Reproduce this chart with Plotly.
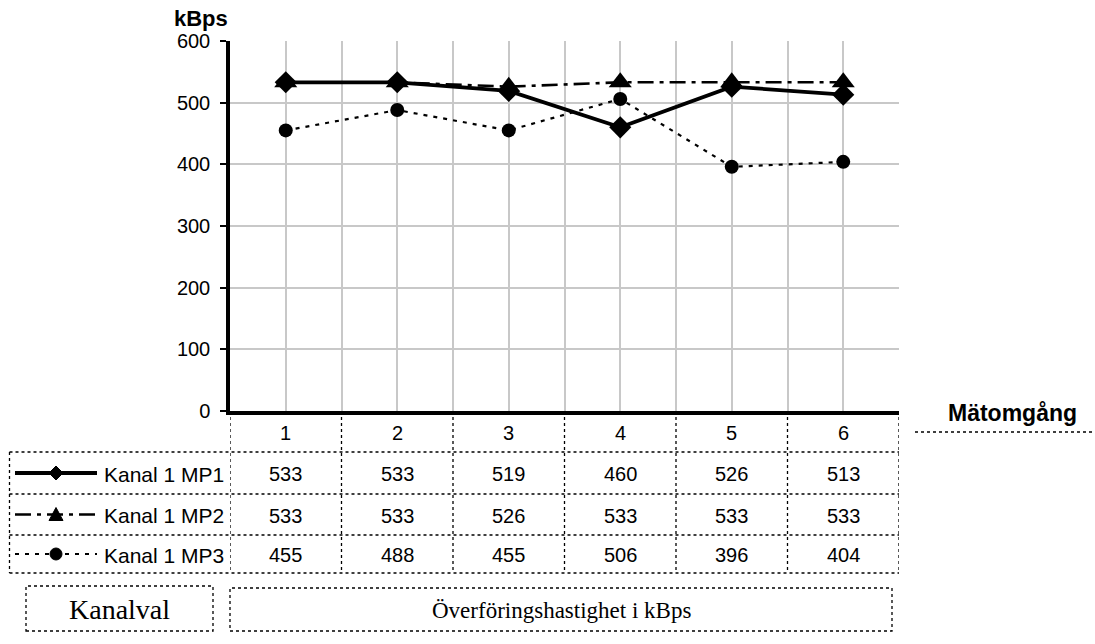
import plotly.graph_objects as go

# ---- data ----
rounds = [1, 2, 3, 4, 5, 6]
series_names = ["Kanal 1 MP1", "Kanal 1 MP2", "Kanal 1 MP3"]
mp1 = [533, 533, 519, 460, 526, 513]
mp2 = [533, 533, 526, 533, 533, 533]
mp3 = [455, 488, 455, 506, 396, 404]
y_ticks = [0, 100, 200, 300, 400, 500, 600]

W, H = 1095, 644
L, R, T, B = 230, 899, 41, 411  # plot area in pixels


def px(X):
    return (X - L) / (R - L)


def py(Y):
    return (B - Y) / (B - T)


ARIAL = "Liberation Sans, Arial, sans-serif"
TIMES = "Liberation Serif, Times New Roman, serif"
FS = 20

fig = go.Figure()

styles = [
    dict(line=dict(color="black", width=3.8, dash="solid"),
         marker=dict(symbol="diamond", size=17, color="black")),
    dict(line=dict(color="black", width=2.6, dash="16px,6px,4px,6px"),
         marker=dict(symbol="triangle-up", size=20, color="black")),
    dict(line=dict(color="black", width=2.2, dash="4px,6px"),
         marker=dict(symbol="circle", size=14, color="black")),
]
for name, vals, st in zip(series_names, [mp1, mp2, mp3], styles):
    fig.add_trace(go.Scatter(x=rounds, y=vals, name=name, mode="lines+markers",
                             line=st["line"], marker=st["marker"],
                             showlegend=False, cliponaxis=False))

shapes = []
annotations = []


def note(x, y, text, xref="paper", size=FS, family=ARIAL, xanchor="center"):
    annotations.append(dict(x=x, y=y, xref=xref, yref="paper", text=text,
                            showarrow=False, xanchor=xanchor, yanchor="middle",
                            font=dict(family=family, size=size, color="black")))


# table row boundaries (pixels)
row_y = [411, 452, 494, 535, 573]
row_centers = [(row_y[i] + row_y[i + 1]) / 2 for i in range(4)]
dot = dict(color="black", width=1.3, dash="dot")

# vertical table lines at category boundaries
for k in range(7):
    xb = rounds[0] - 0.5 + k
    shapes.append(dict(type="line", xref="x", yref="paper", x0=xb, x1=xb,
                       y0=py(row_y[0]), y1=py(row_y[-1]), line=dot))
# horizontal table lines
for yy in row_y[1:]:
    shapes.append(dict(type="line", xref="paper", yref="paper", x0=px(9.5), x1=px(R),
                       y0=py(yy), y1=py(yy), line=dot))
# left border of legend column
shapes.append(dict(type="line", xref="paper", yref="paper", x0=px(9.5), x1=px(9.5),
                   y0=py(row_y[1]), y1=py(row_y[-1]), line=dot))

# category labels in header row
for r in rounds:
    note(r, py(row_centers[0] + 1), str(r), xref="x")
# value cells
for i, vals in enumerate([mp1, mp2, mp3]):
    for r, v in zip(rounds, vals):
        note(r, py(row_centers[i + 1] + 1), str(v), xref="x")

# legend samples in the left column
leg_line = [
    dict(color="black", width=3.8, dash="solid"),
    dict(color="black", width=2.6, dash="16px,6px,4px,6px"),
    dict(color="black", width=2.2, dash="4px,6px"),
]
marker_paths = [
    "M0,7 L7,0 L0,-7 L-7,0 Z",
    "M-7,-6 L7,-6 L0,7 Z",
    None,
]
for i, name in enumerate(series_names):
    yc = py(row_centers[i + 1])
    shapes.append(dict(type="line", xref="paper", yref="paper", x0=px(15), x1=px(97),
                       y0=yc, y1=yc, line=leg_line[i]))
    if marker_paths[i] is not None:
        shapes.append(dict(type="path", xref="paper", yref="paper",
                           xsizemode="pixel", ysizemode="pixel",
                           xanchor=px(56), yanchor=yc, path=marker_paths[i],
                           fillcolor="black", line=dict(color="black", width=1)))
    else:
        shapes.append(dict(type="circle", xref="paper", yref="paper",
                           xsizemode="pixel", ysizemode="pixel",
                           xanchor=px(56), yanchor=yc, x0=-6, x1=6, y0=-6, y1=6,
                           fillcolor="black", line=dict(color="black", width=1)))
    note(px(102), py(row_centers[i + 1] + 1), name, xanchor="left", size=21)

# bottom boxes
boxes = [(26, 586, 213, 631, "Kanalval", 28),
         (230, 588, 892, 631, "Överföringshastighet i kBps", 23)]
for x0, y0, x1, y1, txt, fs in boxes:
    shapes.append(dict(type="rect", xref="paper", yref="paper",
                       x0=px(x0), x1=px(x1), y0=py(y1), y1=py(y0), line=dot))
    note(px((x0 + x1) / 2), py((y0 + y1) / 2 + 1), txt, size=fs, family=TIMES)

# Mätomgång label and underline
note(px(1012), py(413), "<b>Mätomgång</b>", size=23)
shapes.append(dict(type="line", xref="paper", yref="paper", x0=px(915), x1=px(1095),
                   y0=py(432), y1=py(432), line=dot))

# kBps axis title
note(px(201), py(19), "<b>kBps</b>", size=22)

grid_x = [rounds[0] - 0.5 + 0.5 * k for k in range(13)]

fig.update_layout(
    width=W, height=H,
    margin=dict(l=L, r=W - R, t=T, b=H - B, pad=0),
    paper_bgcolor="white", plot_bgcolor="white",
    shapes=shapes, annotations=annotations,
    xaxis=dict(range=[rounds[0] - 0.5, rounds[-1] + 0.5], tickvals=grid_x,
               showticklabels=False, ticks="", showgrid=True, gridcolor="#c8c8c8",
               gridwidth=1.5, zeroline=False, showline=True, linecolor="black",
               linewidth=3.5, mirror=False, fixedrange=True),
    yaxis=dict(range=[0, 600], tickvals=y_ticks, ticks="outside", ticklen=6,
               tickwidth=2, tickcolor="black", showgrid=True, gridcolor="#c8c8c8",
               gridwidth=1.5, zeroline=False, showline=True, linecolor="black",
               linewidth=3.5, tickfont=dict(family=ARIAL, size=20, color="black"),
               ticklabelstandoff=6, fixedrange=True),
)

fig.write_html("out.html")
